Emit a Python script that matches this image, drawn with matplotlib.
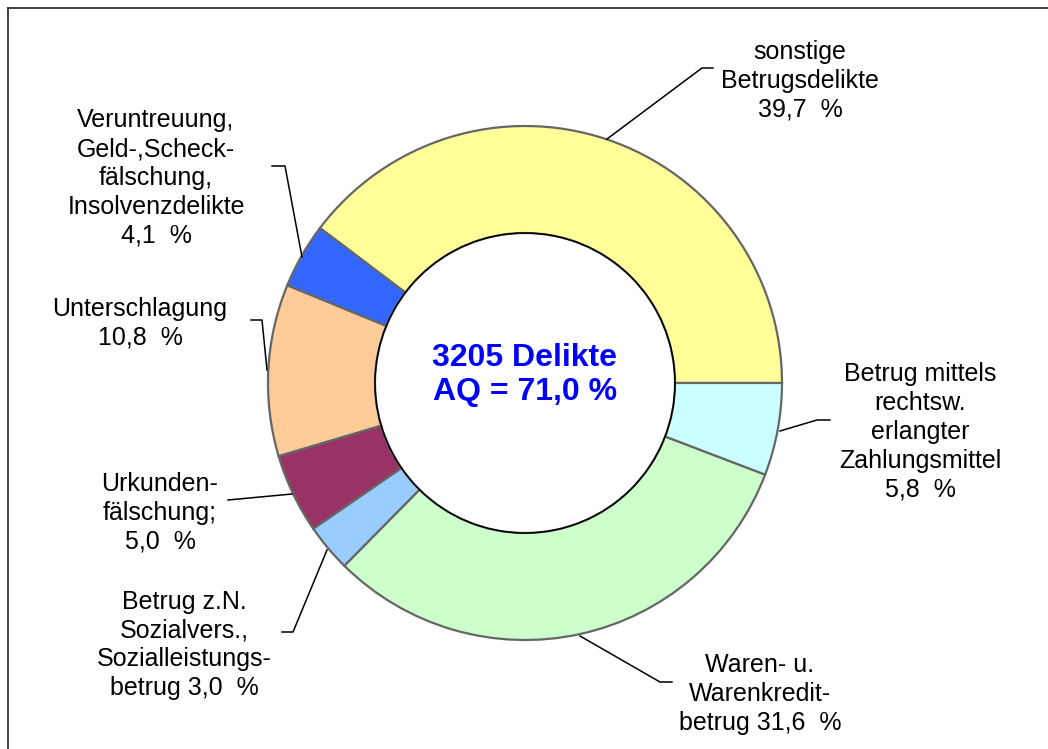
import matplotlib.pyplot as plt
from matplotlib.patches import Circle

plt.rcParams['font.family'] = ['Liberation Sans', 'DejaVu Sans']

# data
labels = [
    "sonstige\nBetrugsdelikte\n39,7  %",
    "Veruntreuung,\nGeld-,Scheck-\nfälschung,\nInsolvenzdelikte\n4,1  %",
    "Unterschlagung\n10,8  %",
    "Urkunden-\nfälschung;\n5,0  %",
    "Betrug z.N.\nSozialvers.,\nSozialleistungs-\nbetrug 3,0  %",
    "Waren- u.\nWarenkredit-\nbetrug 31,6  %",
    "Betrug mittels\nrechtsw.\nerlangter\nZahlungsmittel\n5,8  %",
]
values = [39.7, 4.1, 10.8, 5.0, 3.0, 31.6, 5.8]
colors = ['#FFFF99', '#3366FF', '#FFCC99', '#993366', '#99CCFF', '#CCFFCC', '#CCFFFF']
center_text = "3205 Delikte\nAQ = 71,0 %"

# layout (pixel coords, y downwards)
cx, cy, r_out, r_in = 525, 383, 257, 150
text_pos = [(800, 81), (156, 178), (140, 323), (160, 513),
            (184, 645), (760, 694), (920, 432)]
leaders = [
    [(607, 139), (702, 68), (713, 68)],
    [(302, 257), (285, 166), (272, 166)],
    [(267, 370), (262, 320), (251, 320)],
    [(292, 494), (228, 500)],
    [(327, 550), (293, 632), (282, 632)],
    [(580, 636), (660, 682), (672, 682)],
    [(780, 431), (817, 420), (830, 420)],
]

fig = plt.figure(figsize=(10.48, 7.49), dpi=100)
ax = fig.add_axes([0, 0, 1, 1])

ax.pie(values, colors=colors, startangle=0, counterclock=False,
       center=(cx, cy), radius=r_out,
       wedgeprops=dict(width=r_out - r_in, edgecolor='#666666', linewidth=1.6))
ax.add_patch(Circle((cx, cy), r_in, fill=False, edgecolor='black', linewidth=1.1))

ax.set_xlim(0, 1048)
ax.set_ylim(749, 0)
ax.set_aspect('auto')
ax.axis('off')

for lab, (tx, ty) in zip(labels, text_pos):
    ax.text(tx, ty, lab, ha='center', va='center', fontsize=18,
            linespacing=1.26, color='black')

for pts in leaders:
    xs, ys = zip(*pts)
    ax.plot(xs, ys, color='black', linewidth=1.1)

ax.text(cx, 375, center_text, ha='center', va='center', fontsize=23,
        fontweight='bold', color='#0000FF', linespacing=1.15)

# frame
ax.plot([7.5, 1048], [8, 8], color='#333333', linewidth=1.3, clip_on=False)
ax.plot([7.5, 7.5], [8, 749], color='#333333', linewidth=1.3, clip_on=False)

plt.savefig("out.png", dpi=100)
plt.close()
